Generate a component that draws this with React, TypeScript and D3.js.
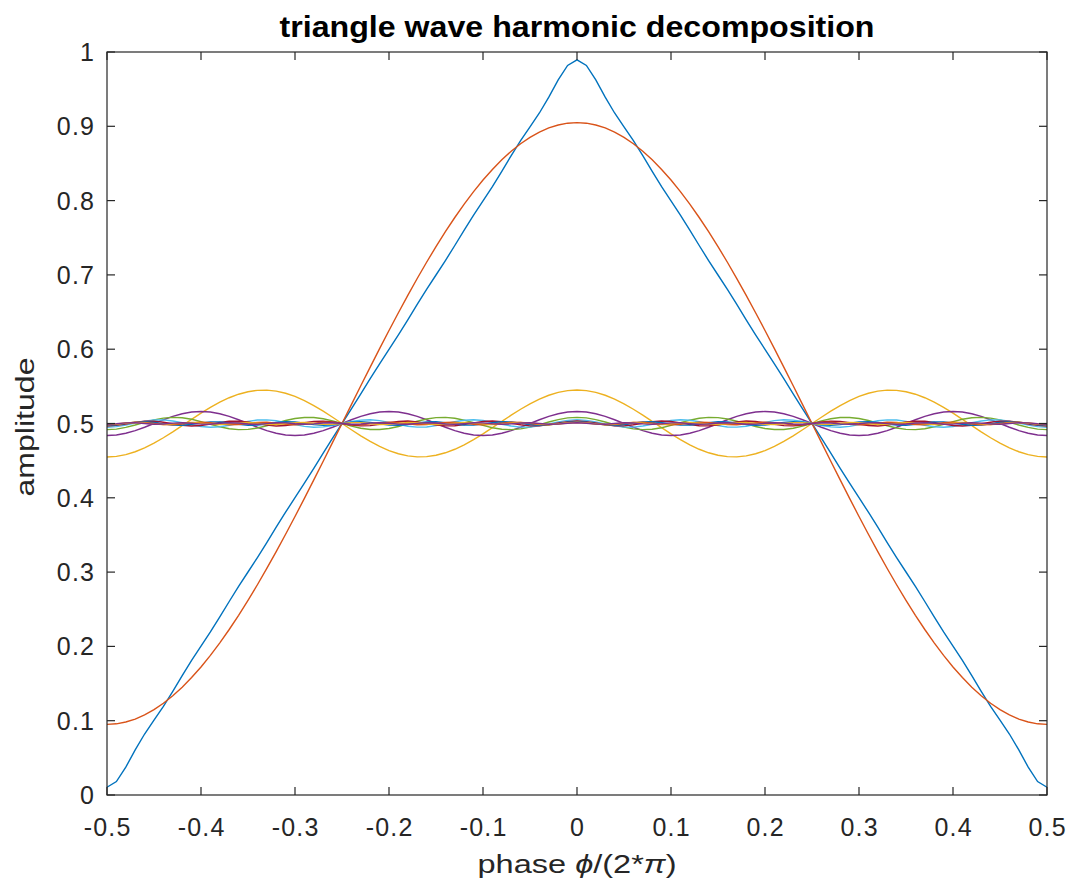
import React from "react";
import * as d3 from "d3";

// Odd harmonic orders and their amplitudes (read from the plotted peaks around the 0.5 offset)
const harmonicOrders = [1, 3, 5, 7, 9, 11, 13, 15, 17, 19];
const harmonicAmplitudes = [0.405, 0.045, 0.0162, 0.0083, 0.005, 0.0033, 0.0024, 0.0018, 0.0014, 0.0011];
const offset = 0.5;
const sampleCount = 101;
const xTicks = [-0.5, -0.4, -0.3, -0.2, -0.1, 0, 0.1, 0.2, 0.3, 0.4, 0.5];
const yTicks = [0, 0.1, 0.2, 0.3, 0.4, 0.5, 0.6, 0.7, 0.8, 0.9, 1];
const colorOrder = ["#0072BD", "#D95319", "#EDB120", "#7E2F8E", "#77AC30", "#4DBEEE", "#A2142F"];

const W = 1069;
const H = 889;
const left = 107, right = 1047, top = 52, bottom = 795;
const axisColor = "#262626";
const font = "'Liberation Sans', Arial, Helvetica, sans-serif";

export default function App() {
  const x = d3.scaleLinear().domain([-0.5, 0.5]).range([left, right]);
  const y = d3.scaleLinear().domain([0, 1]).range([bottom, top]);
  const phases = d3.range(sampleCount).map((i) => -0.5 + i / (sampleCount - 1));

  const harmonics = harmonicOrders.map((n, k) =>
    phases.map((p) => [p, offset + harmonicAmplitudes[k] * Math.cos(2 * Math.PI * n * p)] as [number, number])
  );
  const sum = phases.map((p, i) => [p, offset + harmonics.reduce((s, h) => s + (h[i][1] - offset), 0)] as [number, number]);
  const series = [sum, ...harmonics];

  const line = d3.line<[number, number]>().x((d) => x(d[0])).y((d) => y(d[1]));
  const tickLen = 8;
  const tickFont = 25;
  const tickSpacing = 1.2;

  return (
    <svg width={W} height={H} style={{ position: "absolute", left: 0, top: 0, background: "#fff" }}>
      <rect x={0} y={0} width={W} height={H} fill="#fff" />
      <defs>
        <clipPath id="plotclip">
          <rect x={left} y={top} width={right - left} height={bottom - top} />
        </clipPath>
      </defs>
      <g clipPath="url(#plotclip)">
        {series.map((s, i) => (
          <path key={i} d={line(s) || ""} fill="none" stroke={colorOrder[i % colorOrder.length]} strokeWidth={1.4} />
        ))}
      </g>
      <rect x={left} y={top} width={right - left} height={bottom - top} fill="none" stroke={axisColor} strokeWidth={1.2} />
      {xTicks.map((t) => (
        <g key={"x" + t}>
          <line x1={x(t)} x2={x(t)} y1={bottom} y2={bottom - tickLen} stroke={axisColor} strokeWidth={1.2} />
          <line x1={x(t)} x2={x(t)} y1={top} y2={top + tickLen} stroke={axisColor} strokeWidth={1.2} />
          <text x={x(t) + tickSpacing / 2} y={836} textAnchor="middle" fontFamily={font} fontSize={tickFont} letterSpacing={tickSpacing} fill={axisColor}>
            {String(t)}
          </text>
        </g>
      ))}
      {yTicks.map((t) => (
        <g key={"y" + t}>
          <line x1={left} x2={left + tickLen} y1={y(t)} y2={y(t)} stroke={axisColor} strokeWidth={1.2} />
          <line x1={right} x2={right - tickLen} y1={y(t)} y2={y(t)} stroke={axisColor} strokeWidth={1.2} />
          <text x={94 + tickSpacing} y={y(t)} dy="0.36em" textAnchor="end" fontFamily={font} fontSize={tickFont} letterSpacing={tickSpacing} fill={axisColor}>
            {String(t)}
          </text>
        </g>
      ))}
      <text x={(left + right) / 2} y={37} textAnchor="middle" fontFamily={font} fontSize={30} fontWeight="bold" fill="#000"
        textLength={595} lengthAdjust="spacingAndGlyphs">
        triangle wave harmonic decomposition
      </text>
      <text x={577} y={873} textAnchor="middle" fontFamily={font} fontSize={26} fill={axisColor}
        textLength={199} lengthAdjust="spacingAndGlyphs">
        phase <tspan fontStyle="italic">ϕ</tspan>/(2*<tspan fontStyle="italic">π</tspan>)
      </text>
      <text
        transform={`translate(34, 427) rotate(-90)`}
        textAnchor="middle"
        fontFamily={font}
        fontSize={26}
        fill={axisColor}
        textLength={139}
        lengthAdjust="spacingAndGlyphs"
      >
        amplitude
      </text>
    </svg>
  );
}
